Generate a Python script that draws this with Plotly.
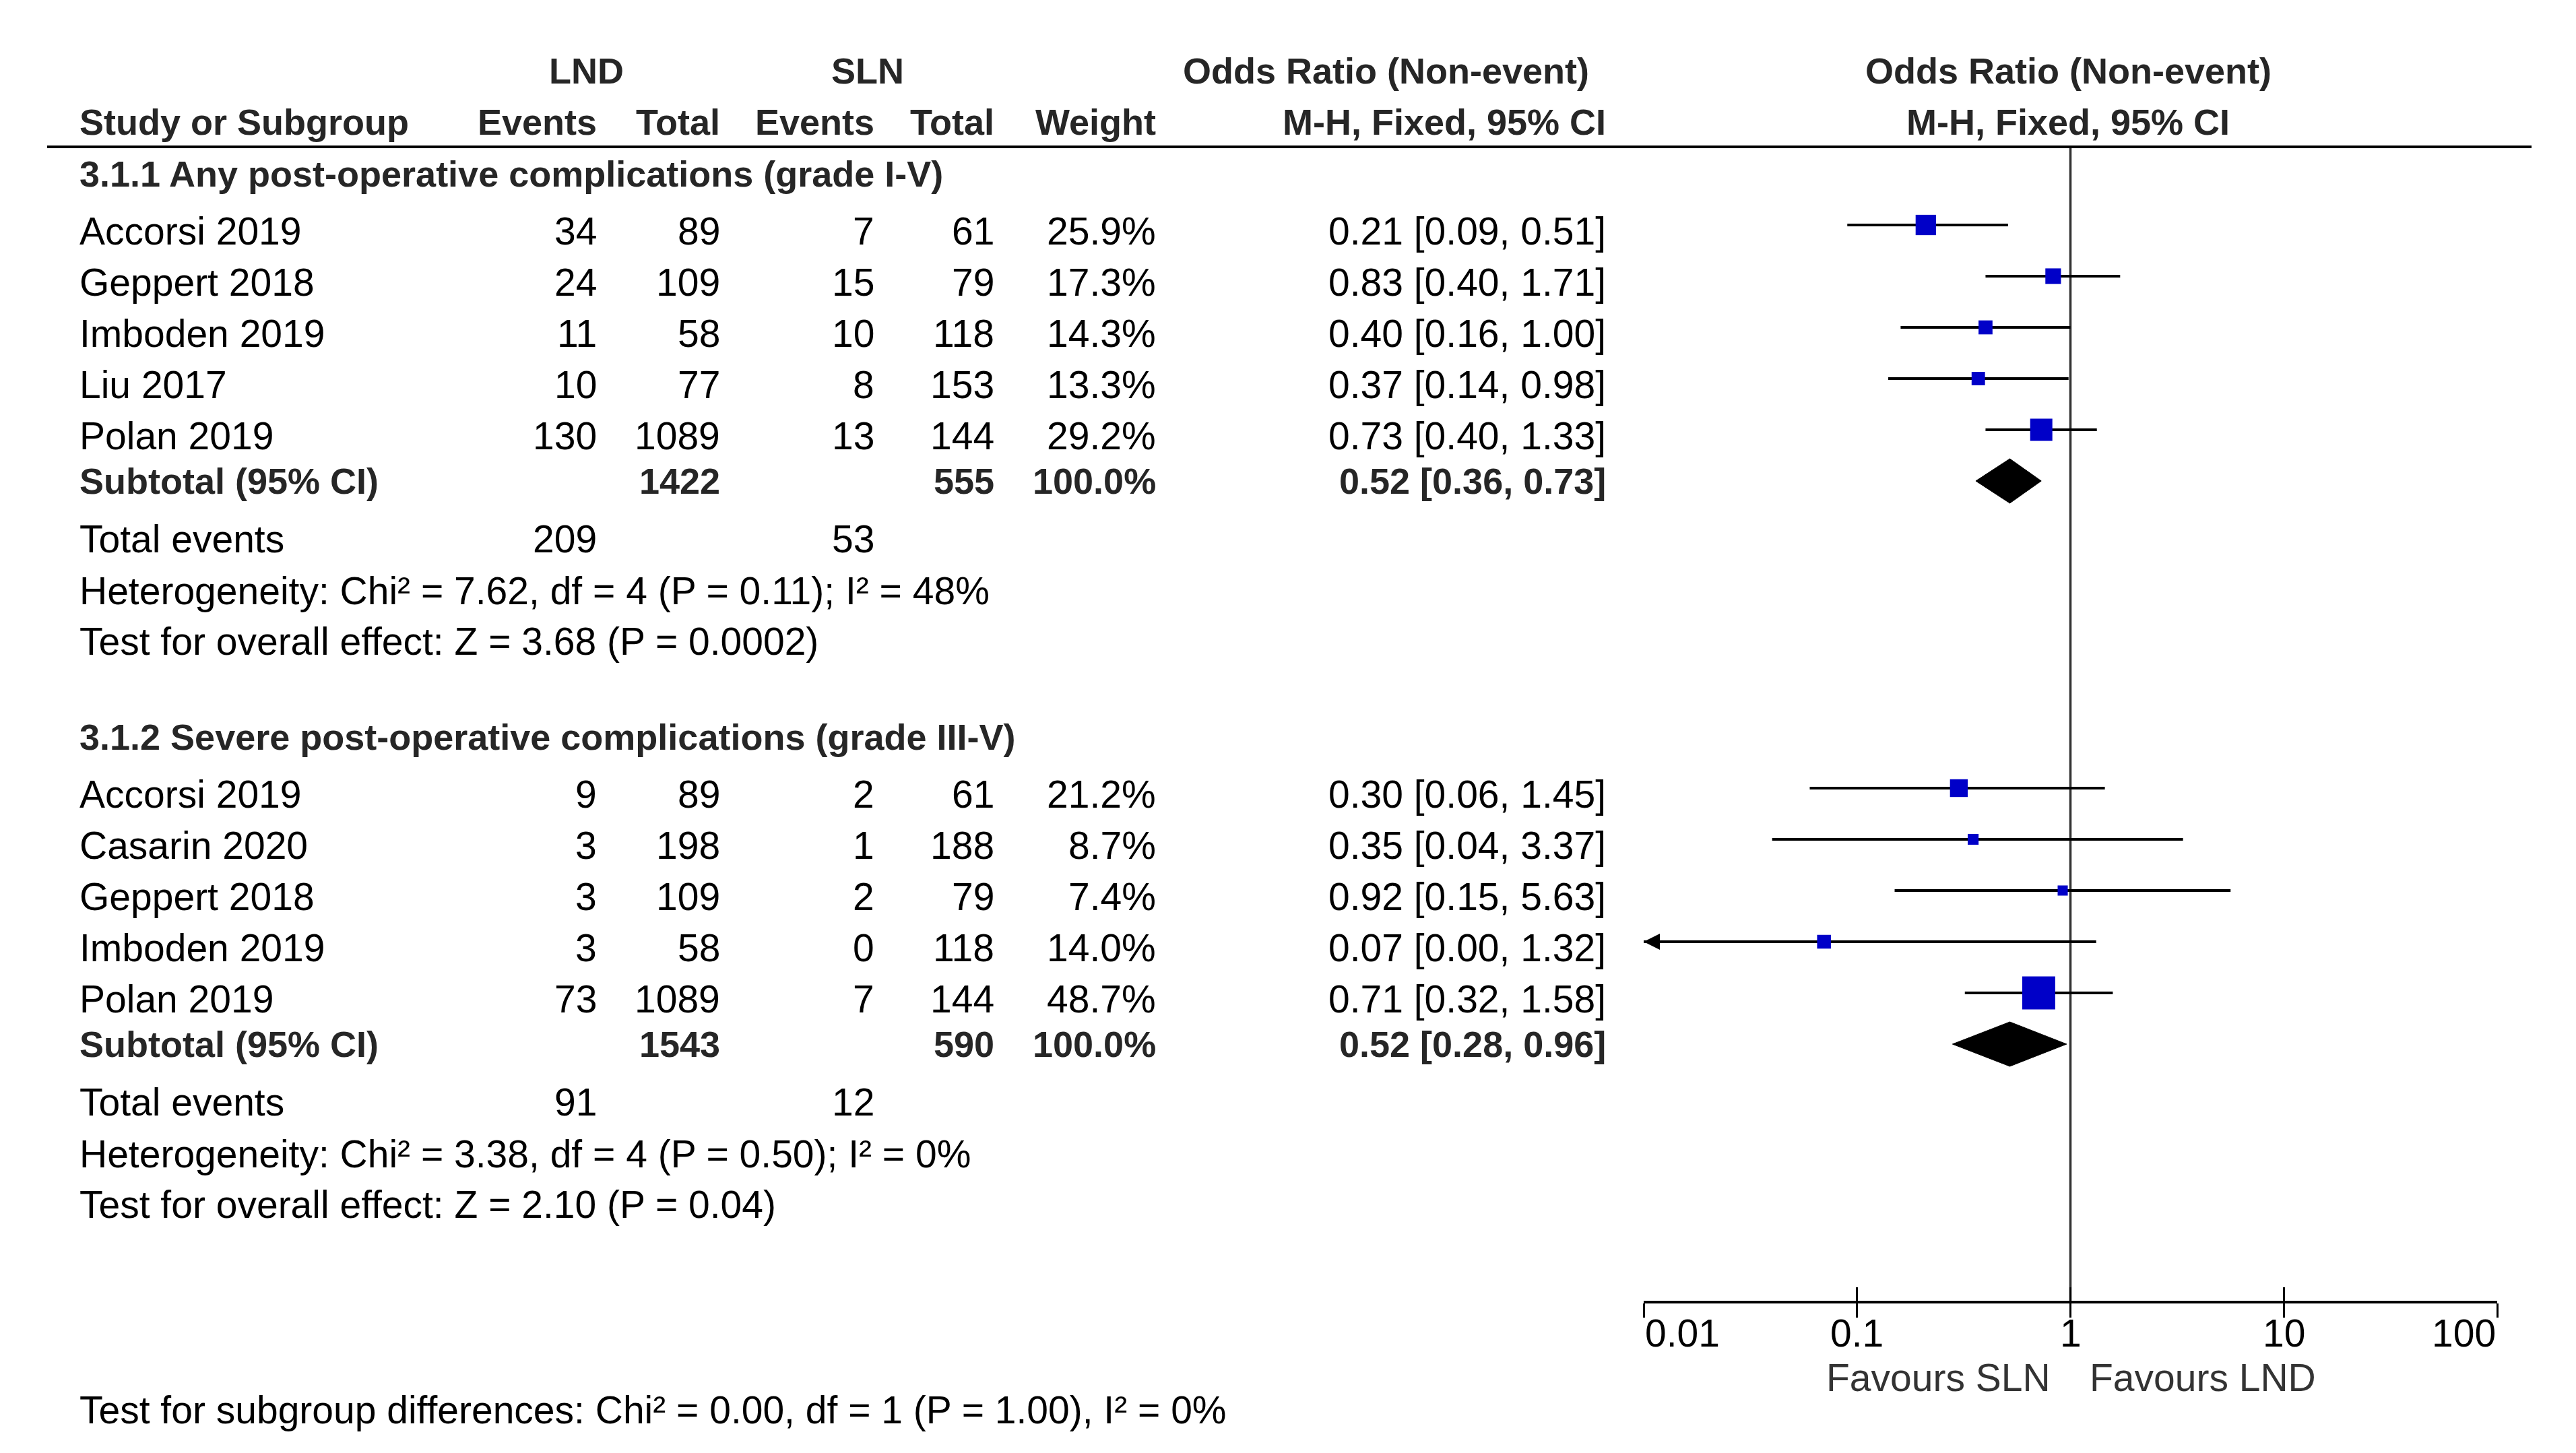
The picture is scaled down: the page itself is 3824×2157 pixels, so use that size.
import math
import plotly.graph_objects as go

# ---------------- data ----------------
g1_title = "3.1.1 Any post-operative complications (grade I-V)"
g1_studies = ["Accorsi 2019", "Geppert 2018", "Imboden 2019", "Liu 2017", "Polan 2019"]
g1_lnd_events = [34, 24, 11, 10, 130]
g1_lnd_total = [89, 109, 58, 77, 1089]
g1_sln_events = [7, 15, 10, 8, 13]
g1_sln_total = [61, 79, 118, 153, 144]
g1_weight = [25.9, 17.3, 14.3, 13.3, 29.2]
g1_or = [0.21, 0.83, 0.40, 0.37, 0.73]
g1_lo = [0.09, 0.40, 0.16, 0.14, 0.40]
g1_hi = [0.51, 1.71, 1.00, 0.98, 1.33]
g1_sub_lnd_total = 1422
g1_sub_sln_total = 555
g1_sub_or = [0.52, 0.36, 0.73]
g1_events_total = [209, 53]
g1_het = "Heterogeneity: Chi² = 7.62, df = 4 (P = 0.11); I² = 48%"
g1_effect = "Test for overall effect: Z = 3.68 (P = 0.0002)"

g2_title = "3.1.2 Severe post-operative complications (grade III-V)"
g2_studies = ["Accorsi 2019", "Casarin 2020", "Geppert 2018", "Imboden 2019", "Polan 2019"]
g2_lnd_events = [9, 3, 3, 3, 73]
g2_lnd_total = [89, 198, 109, 58, 1089]
g2_sln_events = [2, 1, 2, 0, 7]
g2_sln_total = [61, 188, 79, 118, 144]
g2_weight = [21.2, 8.7, 7.4, 14.0, 48.7]
g2_or = [0.30, 0.35, 0.92, 0.07, 0.71]
g2_lo = [0.06, 0.04, 0.15, 0.00, 0.32]
g2_hi = [1.45, 3.37, 5.63, 1.32, 1.58]
g2_sub_lnd_total = 1543
g2_sub_sln_total = 590
g2_sub_or = [0.52, 0.28, 0.96]
g2_events_total = [91, 12]
g2_het = "Heterogeneity: Chi² = 3.38, df = 4 (P = 0.50); I² = 0%"
g2_effect = "Test for overall effect: Z = 2.10 (P = 0.04)"

subgroup_diff = "Test for subgroup differences: Chi² = 0.00, df = 1 (P = 1.00), I² = 0%"
tick_vals = [0.01, 0.1, 1, 10, 100]
tick_text = ["0.01", "0.1", "1", "10", "100"]
favours_left = "Favours SLN"
favours_right = "Favours LND"

# ---------------- layout constants (pixels) ----------------
W, H = 3824, 2157
AX_LEFT, AX_RIGHT = 2432, 3699
AXIS_Y, HEADER_Y = 1923, 210
FONT = "Liberation Sans, Arial, sans-serif"
REG, BOLDSZ = 57, 54
BOLDCOL = "#262626"
BLUE = "rgb(0,0,200)"

COL_NAME = 108
COL_LND_EV = 880
COL_LND_TOT = 1063
COL_SLN_EV = 1292
COL_SLN_TOT = 1470
COL_WEIGHT = 1710
COL_OR = 2378
STEP = 76
TXT_OFF = 9
LOG_MIN, LOG_MAX = -2, 2

fig = go.Figure()
ann = []


def txt(x, y, s, anchor="right", bold=False, size=None, color=None):
    ann.append(dict(
        x=x / W, y=1 - y / H, xref="paper", yref="paper", text=s, showarrow=False,
        xanchor=anchor, yanchor="middle",
        font=dict(family=FONT, size=size or (BOLDSZ if bold else REG),
                  weight="bold" if bold else "normal",
                  color=color or (BOLDCOL if bold else "black")),
    ))


def fmt_ci(v):
    return f"{v[0]:.2f} [{v[1]:.2f}, {v[2]:.2f}]"


def group(title_y, title, studies, le, lt, se, st, w, orv, lo, hi,
          sub_lt, sub_st, sub_or, ev_tot, het, eff):
    txt(COL_NAME, title_y, title, "left", bold=True)
    rows = [title_y + STEP * (i + 1) for i in range(len(studies))]
    for i, r in enumerate(rows):
        ty = r + TXT_OFF
        txt(COL_NAME, ty, studies[i], "left")
        txt(COL_LND_EV, ty, str(le[i]))
        txt(COL_LND_TOT, ty, str(lt[i]))
        txt(COL_SLN_EV, ty, str(se[i]))
        txt(COL_SLN_TOT, ty, str(st[i]))
        txt(COL_WEIGHT, ty, f"{w[i]:.1f}%")
        txt(COL_OR, ty, fmt_ci([orv[i], lo[i], hi[i]]))
    sub_y = title_y + STEP * (len(studies) + 1)
    txt(COL_NAME, sub_y, "Subtotal (95% CI)", "left", bold=True)
    txt(COL_LND_TOT, sub_y, str(sub_lt), bold=True)
    txt(COL_SLN_TOT, sub_y, str(sub_st), bold=True)
    txt(COL_WEIGHT, sub_y, "100.0%", bold=True)
    txt(COL_OR, sub_y, fmt_ci(sub_or), bold=True)
    te_y = sub_y + 86
    txt(COL_NAME, te_y, "Total events", "left")
    txt(COL_LND_EV, te_y, str(ev_tot[0]))
    txt(COL_SLN_EV, te_y, str(ev_tot[1]))
    txt(COL_NAME, te_y + 77, het, "left")
    txt(COL_NAME, te_y + 152, eff, "left")

    xmin = 10 ** LOG_MIN
    # CI lines
    xs, ys = [], []
    for i, r in enumerate(rows):
        xs += [max(lo[i], xmin), hi[i], None]
        ys += [r, r, None]
    fig.add_trace(go.Scatter(x=xs, y=ys, mode="lines", line=dict(color="black", width=4),
                             hoverinfo="skip"))
    # arrows for CIs running off the scale (tip sits at the axis minimum)
    ax_x = [xmin for i in range(len(rows)) if lo[i] < xmin]
    ax_y = [rows[i] for i in range(len(rows)) if lo[i] < xmin]
    if ax_x:
        fig.add_trace(go.Scatter(x=ax_x, y=ax_y, mode="markers", cliponaxis=False,
                                 marker=dict(symbol="arrow-left", size=24, color="black",
                                             opacity=1, line=dict(width=0)),
                                 hoverinfo="skip"))
    # weighted squares
    fig.add_trace(go.Scatter(x=orv, y=rows, mode="markers",
                             marker=dict(symbol="square", color=BLUE, opacity=1,
                                         size=[9 + 0.82 * v for v in w], line=dict(width=0))))
    # diamond
    dh = 33
    fig.add_trace(go.Scatter(x=[sub_or[1], sub_or[0], sub_or[2], sub_or[0], sub_or[1]],
                             y=[sub_y, sub_y - dh, sub_y, sub_y + dh, sub_y],
                             mode="lines", fill="toself", fillcolor="black",
                             line=dict(color="black", width=1), hoverinfo="skip"))
    return te_y + 152


# headers
txt(862, 97, "LND", "center", bold=True)
txt(1280, 97, "SLN", "center", bold=True)
txt(2353, 97, "Odds Ratio (Non-event)", "right", bold=True)
txt(3062, 97, "Odds Ratio (Non-event)", "center", bold=True)
txt(COL_NAME, 173, "Study or Subgroup", "left", bold=True)
txt(COL_LND_EV, 173, "Events", bold=True)
txt(COL_LND_TOT, 173, "Total", bold=True)
txt(COL_SLN_EV, 173, "Events", bold=True)
txt(COL_SLN_TOT, 173, "Total", bold=True)
txt(COL_WEIGHT, 173, "Weight", bold=True)
txt(COL_OR, 173, "M-H, Fixed, 95% CI", bold=True)
txt(3062, 173, "M-H, Fixed, 95% CI", "center", bold=True)

end1 = group(250, g1_title, g1_studies, g1_lnd_events, g1_lnd_total, g1_sln_events,
             g1_sln_total, g1_weight, g1_or, g1_lo, g1_hi, g1_sub_lnd_total,
             g1_sub_sln_total, g1_sub_or, g1_events_total, g1_het, g1_effect)
end2 = group(end1 + 142, g2_title, g2_studies, g2_lnd_events, g2_lnd_total, g2_sln_events,
             g2_sln_total, g2_weight, g2_or, g2_lo, g2_hi, g2_sub_lnd_total,
             g2_sub_sln_total, g2_sub_or, g2_events_total, g2_het, g2_effect)

txt(COL_NAME, 2085, subgroup_diff, "left")

# tick labels (RevMan alignment: first left, last right, others centred); log axis -> log10 coords
for i, (v, t) in enumerate(zip(tick_vals, tick_text)):
    anchor = "left" if i == 0 else ("right" if i == len(tick_vals) - 1 else "center")
    ann.append(dict(x=math.log10(v), xref="x", y=1 - 1971 / H, yref="paper", text=t,
                    showarrow=False, xanchor=anchor, yanchor="middle",
                    font=dict(family=FONT, size=REG, color="black")))
ann.append(dict(x=0, xref="x", y=1 - 2037 / H, yref="paper", text=favours_left,
                showarrow=False, xanchor="right", xshift=-28, yanchor="middle",
                font=dict(family=FONT, size=REG, color="#333333")))
ann.append(dict(x=0, xref="x", y=1 - 2037 / H, yref="paper", text=favours_right,
                showarrow=False, xanchor="left", xshift=26, yanchor="middle",
                font=dict(family=FONT, size=REG, color="#333333")))

# helper trace on overlay axis so its upward tick marks render
fig.add_trace(go.Scatter(x=[1], y=[AXIS_Y], xaxis="x2", mode="markers",
                         marker=dict(opacity=0), hoverinfo="skip"))

# line of no effect (OR = 1) as a fraction of the log-axis domain
null_frac = (math.log10(1) - LOG_MIN) / (LOG_MAX - LOG_MIN)

dom = [AX_LEFT / W, AX_RIGHT / W]
fig.update_layout(
    width=W, height=H, margin=dict(l=0, r=0, t=0, b=0),
    paper_bgcolor="white", plot_bgcolor="white", showlegend=False,
    annotations=ann,
    xaxis=dict(type="log", range=[LOG_MIN, LOG_MAX], domain=dom, anchor="y", showgrid=False,
               zeroline=False, showline=True, linecolor="black", linewidth=4,
               ticks="outside", ticklen=21, tickwidth=3, tickcolor="black",
               tickvals=tick_vals, showticklabels=False, fixedrange=True),
    xaxis2=dict(type="log", range=[LOG_MIN, LOG_MAX], domain=dom, anchor="y", overlaying="x",
                side="bottom", showgrid=False, zeroline=False, showline=False,
                ticks="inside", ticklen=20, tickwidth=3, tickcolor="black",
                tickvals=tick_vals, showticklabels=False, fixedrange=True),
    yaxis=dict(range=[AXIS_Y, HEADER_Y], domain=[1 - AXIS_Y / H, 1 - HEADER_Y / H],
               visible=False, fixedrange=True),
    shapes=[
        dict(type="line", xref="paper", yref="paper", x0=62 / W, x1=3750 / W,
             y0=1 - HEADER_Y / H, y1=1 - HEADER_Y / H, line=dict(color="black", width=4)),
        dict(type="line", xref="x domain", yref="y domain", x0=null_frac, x1=null_frac,
             y0=0, y1=1, line=dict(color="#333333", width=3.5), layer="below"),
    ],
)

fig.write_html("out.html")
